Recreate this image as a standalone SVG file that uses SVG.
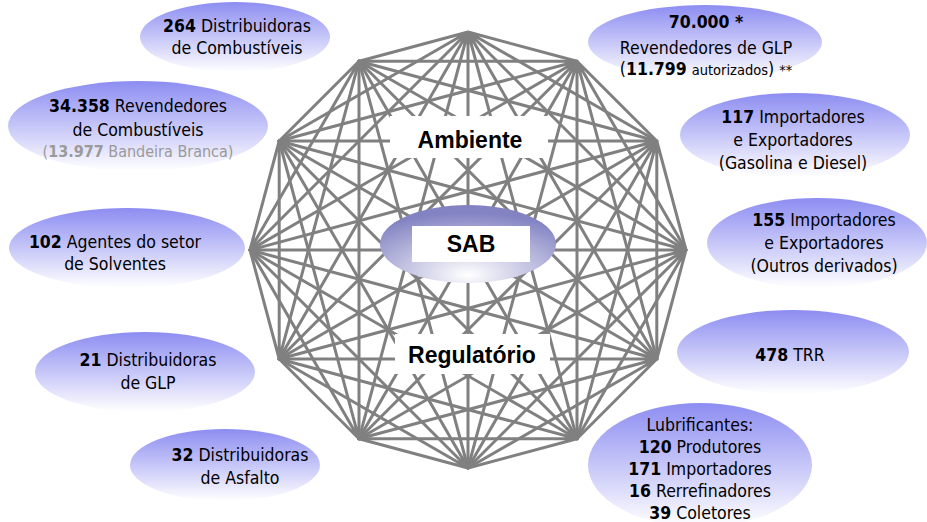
<svg xmlns="http://www.w3.org/2000/svg" width="927" height="522" viewBox="0 0 927 522">
  <defs>
    <linearGradient id="nodeFill" x1="0" y1="0" x2="0" y2="1">
      <stop offset="0" stop-color="#8d8df2"/>
      <stop offset="1" stop-color="#ffffff"/>
    </linearGradient>
    <radialGradient id="hubFill" cx="0.5" cy="0.85" r="0.75" fx="0.5" fy="0.9">
      <stop offset="0" stop-color="#ffffff"/>
      <stop offset="1" stop-color="#8383c3"/>
    </radialGradient>
  </defs>
  <style>
    .edges { stroke: #808080; stroke-width: 3; fill: none; stroke-linecap: round; }
    .node { fill: url(#nodeFill); }
    .t { font-family: "DejaVu Sans Condensed", "DejaVu Sans", sans-serif; font-stretch: condensed; font-size: 17.5px; fill: #000; text-anchor: middle; }
    .s { font-size: 14.5px; }
    .m { font-size: 16px; }
    .g { fill: #9a9a9a; }
    .b { font-weight: bold; }
    .big { font-family: "Liberation Sans", Arial, sans-serif; font-weight: bold; font-size: 23px; fill: #000; text-anchor: middle; }
  </style>
  <rect width="927" height="522" fill="#ffffff"/>

  <!-- complete graph on the twelve vertices of the dodecagon -->
  <g id="connectors" class="edges">
    <path d="M468 32L577 61.2M468 32L656.8 141M468 32L686 250M468 32L656.8 359M468 32L577 438.8M468 32L468 468M468 32L359 438.8M468 32L279.2 359M468 32L250 250M468 32L279.2 141M468 32L359 61.2"/>
    <path d="M577 61.2L656.8 141M577 61.2L686 250M577 61.2L656.8 359M577 61.2L577 438.8M577 61.2L468 468M577 61.2L359 438.8M577 61.2L279.2 359M577 61.2L250 250M577 61.2L279.2 141M577 61.2L359 61.2"/>
    <path d="M656.8 141L686 250M656.8 141L656.8 359M656.8 141L577 438.8M656.8 141L468 468M656.8 141L359 438.8M656.8 141L279.2 359M656.8 141L250 250M656.8 141L279.2 141M656.8 141L359 61.2"/>
    <path d="M686 250L656.8 359M686 250L577 438.8M686 250L468 468M686 250L359 438.8M686 250L279.2 359M686 250L250 250M686 250L279.2 141M686 250L359 61.2"/>
    <path d="M656.8 359L577 438.8M656.8 359L468 468M656.8 359L359 438.8M656.8 359L279.2 359M656.8 359L250 250M656.8 359L279.2 141M656.8 359L359 61.2"/>
    <path d="M577 438.8L468 468M577 438.8L359 438.8M577 438.8L279.2 359M577 438.8L250 250M577 438.8L279.2 141M577 438.8L359 61.2"/>
    <path d="M468 468L359 438.8M468 468L279.2 359M468 468L250 250M468 468L279.2 141M468 468L359 61.2"/>
    <path d="M359 438.8L279.2 359M359 438.8L250 250M359 438.8L279.2 141M359 438.8L359 61.2"/>
    <path d="M279.2 359L250 250M279.2 359L279.2 141M279.2 359L359 61.2"/>
    <path d="M250 250L279.2 141M250 250L359 61.2"/>
    <path d="M279.2 141L359 61.2"/>
  </g>

  <!-- captions inside the mesh -->
  <g id="ambiente">
    <rect x="390" y="116" width="158" height="42" fill="#ffffff"/>
    <text class="big" x="470" y="148">Ambiente</text>
  </g>
  <g id="regulatorio">
    <rect x="395" y="334" width="155" height="40" fill="#ffffff"/>
    <text class="big" x="472" y="363">Regulatório</text>
  </g>

  <!-- central hub -->
  <g id="sab">
    <ellipse cx="468" cy="244" rx="88" ry="39" fill="url(#hubFill)"/>
    <rect x="412" y="226" width="118" height="36" fill="#ffffff"/>
    <text class="big" x="471" y="252">SAB</text>
  </g>

  <!-- surrounding agents -->
  <g id="distribuidoras-combustiveis">
    <ellipse class="node" cx="235" cy="37" rx="95" ry="35"/>
    <text class="t" x="237" y="32"><tspan class="b">264</tspan> Distribuidoras</text>
    <text class="t" x="237" y="54">de Combustíveis</text>
  </g>

  <g id="revendedores-glp">
    <ellipse class="node" cx="705" cy="42" rx="117" ry="37"/>
    <text class="t b" x="706" y="28">70.000 *</text>
    <text class="t" x="706" y="54">Revendedores de GLP</text>
    <text class="t" x="706" y="75">(<tspan class="b">11.799</tspan> <tspan class="s">autorizados</tspan>) <tspan class="s">**</tspan></text>
  </g>

  <g id="revendedores-combustiveis">
    <ellipse class="node" cx="138" cy="126" rx="130" ry="45"/>
    <text class="t" x="138" y="112"><tspan class="b">34.358</tspan> Revendedores</text>
    <text class="t" x="138" y="136">de Combustíveis</text>
    <text class="t m g" x="138" y="157">(<tspan class="b">13.977</tspan> Bandeira Branca)</text>
  </g>

  <g id="importadores-gasolina-diesel">
    <ellipse class="node" cx="795" cy="135" rx="115" ry="42"/>
    <text class="t" x="793" y="123"><tspan class="b">117</tspan> Importadores</text>
    <text class="t" x="793" y="146">e Exportadores</text>
    <text class="t" x="793" y="169">(Gasolina e Diesel)</text>
  </g>

  <g id="importadores-outros">
    <ellipse class="node" cx="817" cy="243" rx="110" ry="45"/>
    <text class="t" x="824" y="226"><tspan class="b">155</tspan> Importadores</text>
    <text class="t" x="824" y="249">e Exportadores</text>
    <text class="t" x="824" y="272">(Outros derivados)</text>
  </g>

  <g id="solventes">
    <ellipse class="node" cx="127" cy="248" rx="118" ry="40"/>
    <text class="t" x="115" y="248"><tspan class="b">102</tspan> Agentes do setor</text>
    <text class="t" x="115" y="270">de Solventes</text>
  </g>

  <g id="trr">
    <ellipse class="node" cx="793" cy="352" rx="116" ry="42"/>
    <text class="t" x="790" y="361"><tspan class="b">478</tspan> TRR</text>
  </g>

  <g id="distribuidoras-glp">
    <ellipse class="node" cx="145" cy="372" rx="110" ry="40"/>
    <text class="t" x="148" y="366"><tspan class="b">21</tspan> Distribuidoras</text>
    <text class="t" x="148" y="389">de GLP</text>
  </g>

  <g id="distribuidoras-asfalto">
    <ellipse class="node" cx="225" cy="465" rx="95" ry="36"/>
    <text class="t" x="240" y="461"><tspan class="b">32</tspan> Distribuidoras</text>
    <text class="t" x="240" y="484">de Asfalto</text>
  </g>

  <g id="lubrificantes">
    <ellipse class="node" cx="700" cy="465" rx="112" ry="62"/>
    <text class="t" x="700" y="431">Lubrificantes:</text>
    <text class="t" x="700" y="453"><tspan class="b">120</tspan> Produtores</text>
    <text class="t" x="700" y="475"><tspan class="b">171</tspan> Importadores</text>
    <text class="t" x="700" y="497"><tspan class="b">16</tspan> Rerrefinadores</text>
    <text class="t" x="700" y="519"><tspan class="b">39</tspan> Coletores</text>
  </g>
</svg>
